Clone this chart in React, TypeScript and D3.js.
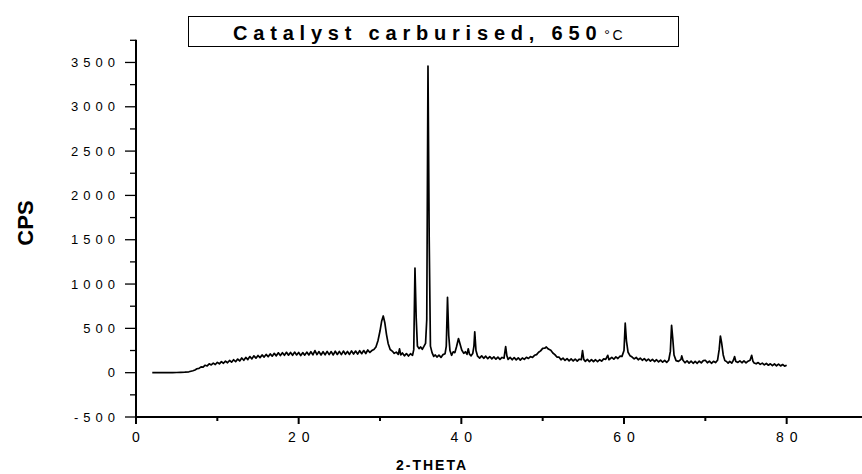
import * as d3 from 'd3';
import React from 'react';

// XRD pattern: 2-theta (deg) and counts per second
const twoTheta = [
  2, 2.5, 3, 3.5, 4, 4.5, 5, 5.5, 6, 6.5, 7,
  7.25, 7.5, 7.75, 8, 8.25, 8.5, 8.75, 9, 9.25, 9.5, 9.75, 10, 10.25, 10.5,
  10.75, 11, 11.25, 11.5, 11.75, 12, 12.25, 12.5, 12.75, 13, 13.25, 13.5, 13.75, 14, 14.25, 14.5, 14.75,
  15, 15.25, 15.5, 15.75, 16, 16.25, 16.5, 16.75, 17, 17.25, 17.5, 17.75, 18, 18.25, 18.5, 18.75,
  19, 19.25, 19.5, 19.75, 20, 20.25, 20.5, 20.75, 21, 21.25, 21.5, 21.75, 22, 22.25, 22.5, 22.75,
  23, 23.25, 23.5, 23.75, 24, 24.25, 24.5, 24.75, 25, 25.25, 25.5, 25.75, 26, 26.25, 26.5, 26.75,
  27, 27.25, 27.5, 27.75, 28, 28.25, 28.5, 28.75, 29, 29.25, 29.5, 29.75, 30, 30.2, 30.4, 30.6, 30.8,
  31, 31.25, 31.5, 31.75, 32, 32.25, 32.4, 32.55, 32.75, 33, 33.25, 33.5, 33.75, 34, 34.15, 34.3, 34.45,
  34.6, 34.8, 35, 35.2, 35.4, 35.6, 35.75, 35.9, 36.05, 36.2, 36.4, 36.6, 36.8, 37, 37.25, 37.5, 37.75,
  38, 38.15, 38.3, 38.45, 38.6, 38.8, 39, 39.2, 39.4, 39.65, 39.85, 40.05, 40.3, 40.5, 40.7, 40.85,
  41, 41.2, 41.4, 41.55, 41.65, 41.8, 42, 42.25, 42.5, 42.75, 43, 43.25, 43.5, 43.75, 44, 44.25, 44.5, 44.75,
  45, 45.25, 45.45, 45.6, 45.75, 46, 46.25, 46.5, 46.75, 47, 47.25, 47.5, 47.75, 48, 48.25, 48.5, 48.75,
  49, 49.25, 49.5, 49.75, 50, 50.25, 50.45, 50.7, 51, 51.25, 51.5, 51.75, 52, 52.25, 52.5, 52.75,
  53, 53.25, 53.5, 53.75, 54, 54.25, 54.5, 54.75, 54.9, 55.05, 55.25, 55.5, 55.75, 56, 56.25, 56.5, 56.75,
  57, 57.25, 57.5, 57.75, 58, 58.15, 58.5, 58.75, 59, 59.25, 59.5, 59.75, 60, 60.15, 60.3, 60.5, 60.75,
  61, 61.25, 61.5, 61.75, 62, 62.25, 62.5, 62.75, 63, 63.25, 63.5, 63.75, 64, 64.25, 64.5, 64.75,
  65, 65.25, 65.5, 65.7, 65.85, 66, 66.15, 66.4, 66.7, 67, 67.1, 67.25, 67.5, 67.75, 68, 68.25, 68.5, 68.75,
  69, 69.25, 69.5, 69.75, 70, 70.25, 70.5, 70.75, 71, 71.25, 71.5, 71.7, 71.85, 72, 72.2, 72.4, 72.6, 72.8,
  73, 73.25, 73.45, 73.6, 73.75, 74, 74.25, 74.5, 74.75, 75, 75.25, 75.5, 75.7, 75.85, 76, 76.25, 76.5, 76.75,
  77, 77.25, 77.5, 77.75, 78, 78.25, 78.5, 78.75, 79, 79.25, 79.5, 79.75, 80,
];

const cps = [
  0, 0, 1, 0, 1, 0, 2, 4, 6, 10, 22,
  30, 44, 48, 66, 62, 84, 76, 100, 88, 108, 92, 116, 100, 124,
  106, 130, 112, 138, 118, 146, 124, 154, 132, 166, 140, 172, 148, 182, 156, 190, 164,
  194, 170, 200, 176, 206, 180, 212, 186, 218, 190, 224, 194, 226, 196, 230, 198,
  228, 196, 232, 200, 228, 194, 226, 198, 232, 200, 236, 202, 250, 204, 238, 200,
  236, 202, 240, 204, 238, 200, 242, 206, 240, 204, 244, 208, 240, 206, 246, 210,
  244, 210, 248, 214, 250, 216, 256, 228, 250, 262, 290, 360, 470, 580, 640, 560, 430,
  330, 262, 244, 218, 232, 206, 268, 200, 222, 190, 216, 188, 214, 196, 260, 1180, 620,
  300, 272, 290, 264, 296, 330, 600, 3460, 1500, 300, 226, 184, 200, 176, 198, 172, 204,
  214, 300, 850, 420, 250, 196, 236, 226, 290, 385, 320, 256, 218, 236, 206, 270,
  210, 190, 216, 300, 460, 250, 186, 164, 190, 162, 186, 158, 182, 156, 178, 152, 176, 150,
  172, 164, 294, 190, 150, 172, 146, 170, 144, 168, 142, 166, 150, 174, 160, 182, 172,
  196, 204, 230, 246, 274, 276, 290, 266, 252, 222, 204, 176, 176, 146, 164, 138,
  158, 134, 156, 132, 154, 130, 152, 146, 248, 150, 128, 150, 124, 148, 126, 146, 124,
  146, 130, 156, 150, 196, 146, 172, 152, 178, 160, 186, 184, 250, 558, 360, 230, 190,
  176, 156, 172, 146, 164, 140, 158, 134, 154, 130, 150, 126, 146, 122, 142, 118,
  138, 116, 140, 240, 535, 380, 200, 136, 128, 150, 189, 140, 112, 134, 108, 130, 106, 128,
  106, 130, 110, 136, 140, 112, 130, 106, 128, 114, 140, 260, 414, 340, 200, 136, 126, 108,
  128, 108, 140, 181, 126, 116, 134, 112, 132, 110, 130, 140, 196, 130, 110, 100, 114, 94,
  108, 88, 104, 84, 100, 80, 98, 78, 96, 76, 92, 74, 84,
];

const xMajor = [0, 20, 40, 60, 80];
const xMinor = [10, 30, 50, 70];
const yMajor = [-500, 0, 500, 1000, 1500, 2000, 2500, 3000, 3500];
const yMinor = [-250, 250, 750, 1250, 1750, 2250, 2750, 3250, 3750];

const W = 862;
const H = 474;
const font = 'Liberation Sans, Arial, sans-serif';

const App = () => {
  const x = d3.scaleLinear().domain([0, 90]).range([136, 868]);
  const y = d3.scaleLinear().domain([-500, 3750]).range([417, 40.3]);
  const points = twoTheta.map((t, i) => [t, cps[i]] as [number, number]);
  const line = d3.line<[number, number]>()
    .x(d => x(d[0]))
    .y(d => y(d[1]));

  const x0 = x(0);
  const yBottom = y(-500);

  return (
    <svg width={W} height={H} style={{ position: 'absolute', left: 0, top: 0, background: '#fff' }}
      fontFamily={font}>
      <rect x={0} y={0} width={W} height={H} fill="#fff" />

      {/* title box */}
      <rect x={188.5} y={16.5} width={490} height={30} fill="#fff" stroke="#000" strokeWidth={1} />
      <text x={233} y={39.5} fontSize={20} fontWeight="bold" letterSpacing={5.8} fill="#000">
        Catalyst carburised, 650
        <tspan fontWeight="normal" fontSize={14} letterSpacing={2.5} dx={2}>°C</tspan>
      </text>

      {/* data */}
      <path d={line(points) ?? ''} fill="none" stroke="#000" strokeWidth={1.7} strokeLinejoin="round" />

      {/* y axis */}
      <line x1={x0} x2={x0} y1={y(3750) - 0.5} y2={yBottom + 1} stroke="#000" strokeWidth={2} />
      {yMajor.map(v => (
        <g key={'ym' + v}>
          <line x1={x0 - 11} x2={x0} y1={y(v)} y2={y(v)} stroke="#000" strokeWidth={1.3} />
          <text x={120} y={y(v) + 4.5} textAnchor="end" fontSize={13} letterSpacing={5} fill="#000">{v}</text>
        </g>
      ))}
      {yMinor.map(v => (
        <line key={'yn' + v} x1={x0 - 6} x2={x0} y1={y(v)} y2={y(v)} stroke="#000" strokeWidth={1.3} />
      ))}

      {/* x axis */}
      <line x1={x0 - 1} x2={W} y1={yBottom} y2={yBottom} stroke="#000" strokeWidth={2} />
      {xMajor.map(v => (
        <g key={'xm' + v}>
          <line x1={x(v)} x2={x(v)} y1={yBottom} y2={yBottom + 7} stroke="#000" strokeWidth={2} />
          <text x={x(v)} dx={3} y={442} textAnchor="middle" fontSize={14} letterSpacing={6} fill="#000">{v}</text>
        </g>
      ))}
      {xMinor.map(v => (
        <line key={'xn' + v} x1={x(v)} x2={x(v)} y1={yBottom} y2={yBottom + 4} stroke="#000" strokeWidth={2} />
      ))}

      {/* axis titles */}
      <text x={432} y={470} textAnchor="middle" fontSize={14} fontWeight="bold" letterSpacing={2} fill="#000">2-THETA</text>
      <text transform="translate(33,223) rotate(-90)" textAnchor="middle" fontSize={22} fontWeight="bold" fill="#000">CPS</text>
    </svg>
  );
};

export default App;
